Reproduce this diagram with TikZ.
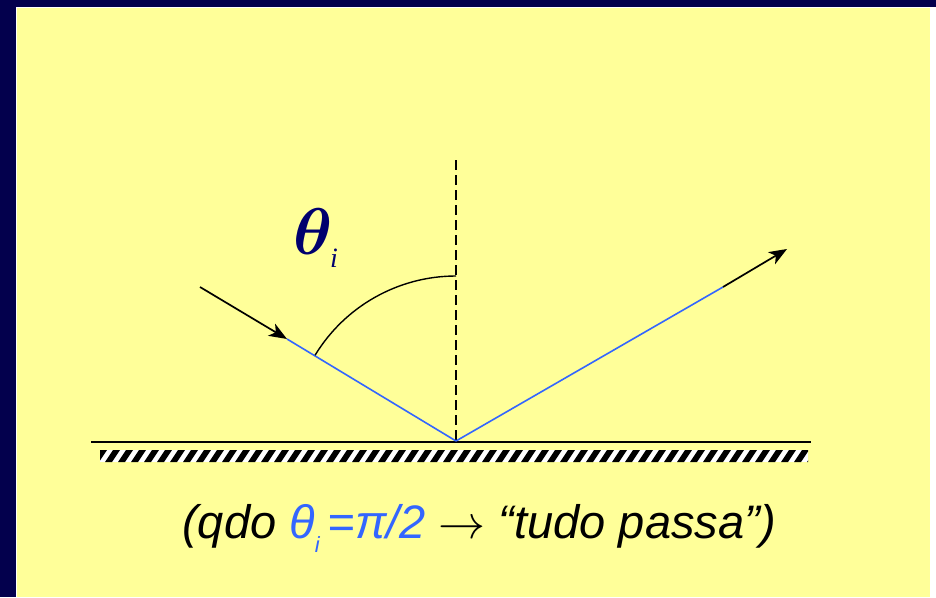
\RequirePackage{fix-cm}
\documentclass[tikz,border=0pt]{standalone}
\usepackage{bm}
\usepackage{fontspec}
\setmainfont{Liberation Sans}
\newfontfamily\timesf{Liberation Serif}
\usetikzlibrary{arrows.meta}
\definecolor{navybg}{RGB}{3,0,77}
\definecolor{paper}{RGB}{255,255,153}
\definecolor{rayblue}{RGB}{51,102,255}
\definecolor{labnavy}{RGB}{0,0,110}
\tikzset{
  ray/.style={line width=1.6pt, rayblue},
  arrowpart/.style={line width=1.7pt, black, -{Stealth[length=18pt,width=14pt,inset=5pt]}},
  normalline/.style={line width=1.3pt, black, dash pattern=on 10pt off 5pt},
  surface/.style={line width=2.2pt, black},
  anglearc/.style={line width=1.4pt, black}
}
\begin{document}
\begin{tikzpicture}[x=1pt,y=-1pt]
\useasboundingbox (0,0) rectangle (936,597);
\fill[navybg] (0,0) rectangle (936,597);
\fill[white] (16,7) rectangle (936,597);
\fill[paper] (17,8) rectangle (930,597);
% surface and hatch
\coordinate (sL) at (91,442);
\coordinate (sR) at (811,442);
\draw[surface] (sL) -- (sR);
\fill[white] (100,450) rectangle (808,462);
\begin{scope}
\clip (100,450) rectangle (808,462);
\foreach \x in {92,105,...,815}{
  \fill[black] (\x,462) -- (\x+7,462) -- (\x+15,450) -- (\x+8,450) -- cycle;
}
\end{scope}
% points
\coordinate (O) at (456,441);
\coordinate (ntop) at (456,160);
\coordinate (inS) at (200,287);
\coordinate (inE) at (287,339);
\coordinate (reS) at (723,287);
\coordinate (reE) at (787,249);
% normal
\draw[normalline] (ntop) -- (O);
% rays
\draw[ray] (inE) -- (O);
\draw[ray] (O) -- (reS);
\draw[arrowpart] (inS) -- (inE);
\draw[arrowpart] (reS) -- (reE);
% angle arc
\draw[anglearc] (O) ++(211.3:165) arc[start angle=211.3, end angle=270, radius=165] coordinate (arcEnd);
% labels
\node[labnavy, font=\fontsize{66}{66}\selectfont, inner sep=0pt] (theta) at (313,232) {$\bm{\theta}$};
\node[labnavy, font=\timesf\itshape\fontsize{28}{28}\selectfont, inner sep=0pt] (thsub) at (334,258) {i};
\node[font=\itshape\fontsize{47}{47}\selectfont, inner sep=0pt, anchor=base] (cap) at (479,538)
  {(qdo \textcolor{rayblue}{θ\raisebox{-14pt}{\fontsize{22}{22}\selectfont i}\,=π/2} $\rightarrow$ “tudo passa”)};
\end{tikzpicture}
\end{document}
